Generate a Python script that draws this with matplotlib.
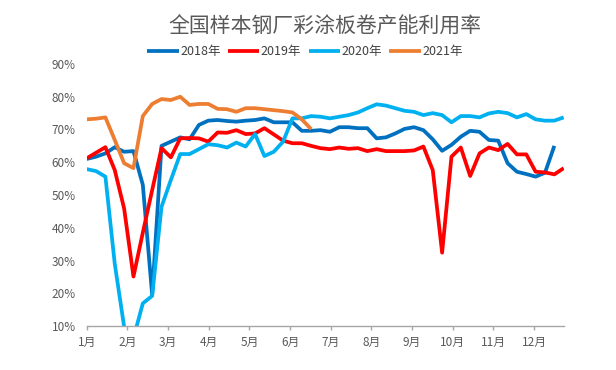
import numpy as np
import matplotlib
matplotlib.use("Agg")
import matplotlib.pyplot as plt

plt.rcParams['font.family'] = ['Noto Sans CJK SC', 'DejaVu Sans']

title = "全国样本钢厂彩涂板卷产能利用率"
month_labels = [f"{m}月" for m in range(1, 13)]
series_names = ["2018年", "2019年", "2020年", "2021年"]
colors = ["#0070C0", "#FF0000", "#00B0F0", "#ED7D31"]

# weekly capacity utilisation (%)
y2018 = [61.0, 61.7, 62.7, 64.6, 63.2, 63.4, 53.1, 19.5, 65.0, 66.3,
         67.6, 67.0, 71.4, 72.7, 72.9, 72.6, 72.4, 72.7, 72.9, 73.4,
         72.2, 72.2, 72.2, 69.6, 69.6, 69.8, 69.3, 70.7, 70.7, 70.4,
         70.4, 67.3, 67.6, 68.8, 70.2, 70.7, 69.8, 67.0, 63.5, 65.3,
         67.8, 69.6, 69.3, 66.8, 66.6, 59.7, 57.1, 56.4, 55.6, 56.8,
         65.0]
y2019 = [61.2, 62.9, 64.6, 57.6, 45.9, 25.1, 38.5, 51.5, 64.3, 61.5,
         67.3, 67.4, 67.3, 66.3, 69.1, 69.0, 69.8, 68.6, 68.8, 70.4,
         68.5, 66.6, 65.8, 65.8, 65.0, 64.3, 64.0, 64.5, 64.1, 64.3,
         63.4, 64.0, 63.4, 63.4, 63.4, 63.6, 64.8, 57.6, 32.4, 61.7,
         64.5, 55.8, 62.7, 64.5, 63.7, 65.6, 62.4, 62.4, 57.1, 56.9,
         56.3, 58.2]
y2020 = [57.9, 57.3, 55.6, 29.0, 9.8, 6.3, 16.9, 19.2, 46.4, 54.6,
         62.5, 62.5, 64.0, 65.5, 65.2, 64.5, 66.0, 64.8, 68.6, 61.9,
         63.2, 66.3, 73.4, 73.4, 74.1, 73.9, 73.4, 73.9, 74.4, 75.2,
         76.5, 77.7, 77.3, 76.5, 75.7, 75.4, 74.4, 75.0, 74.4, 72.2,
         74.1, 74.1, 73.7, 74.9, 75.4, 75.0, 73.7, 74.7, 73.1, 72.7,
         72.7, 73.7]
y2021 = [73.1, 73.3, 73.7, 66.8, 59.7, 58.2, 74.1, 77.8, 79.3, 79.0,
         80.0, 77.5, 77.8, 77.8, 76.3, 76.2, 75.4, 76.5, 76.5, 76.2,
         75.9, 75.6, 75.2, 73.1, 70.1]
series = [y2018, y2019, y2020, y2021]

W, H = 616, 370
fig = plt.figure(figsize=(W / 100, H / 100), dpi=100)
ax = fig.add_axes([86.7 / W, 1 - 326 / H, (563.7 - 86.7) / W, (326 - 64) / H])

for name, vals, c in zip(series_names, series, colors):
    x = np.arange(len(vals))
    ax.plot(x, vals, color=c, lw=2.7, label=name,
            solid_joinstyle='round', solid_capstyle='butt')

weeks_per_month = 365.25 / 7 / 12
ax.set_xlim(0, 51)
ax.set_ylim(10, 90)
ax.set_xticks(np.arange(12) * weeks_per_month)
ax.set_xticklabels(month_labels)
yt = np.arange(10, 91, 10)
ax.set_yticks(yt)
ax.set_yticklabels([f"{v}%" for v in yt])

for s in ['top', 'right', 'left']:
    ax.spines[s].set_visible(False)
ax.spines['bottom'].set_color('#A6A6A6')
ax.spines['bottom'].set_linewidth(1.0)
ax.tick_params(axis='x', length=3, width=1.0, color='#A6A6A6',
               labelsize=8.5, labelcolor='#595959', pad=4)
ax.tick_params(axis='y', length=0, labelsize=8.5, labelcolor='#595959', pad=8)

fig.text(325 / W, 1 - 27 / H, title, ha='center', va='center',
         fontsize=15, color='#595959')

fig.legend(loc='center', bbox_to_anchor=(305 / W, 1 - 52 / H), ncol=4,
           frameon=False, fontsize=9, handlelength=2.5, handletextpad=0.12,
           columnspacing=0.6, labelcolor='#404040', borderpad=0,
           borderaxespad=0)

fig.savefig("out.png", dpi=100)
